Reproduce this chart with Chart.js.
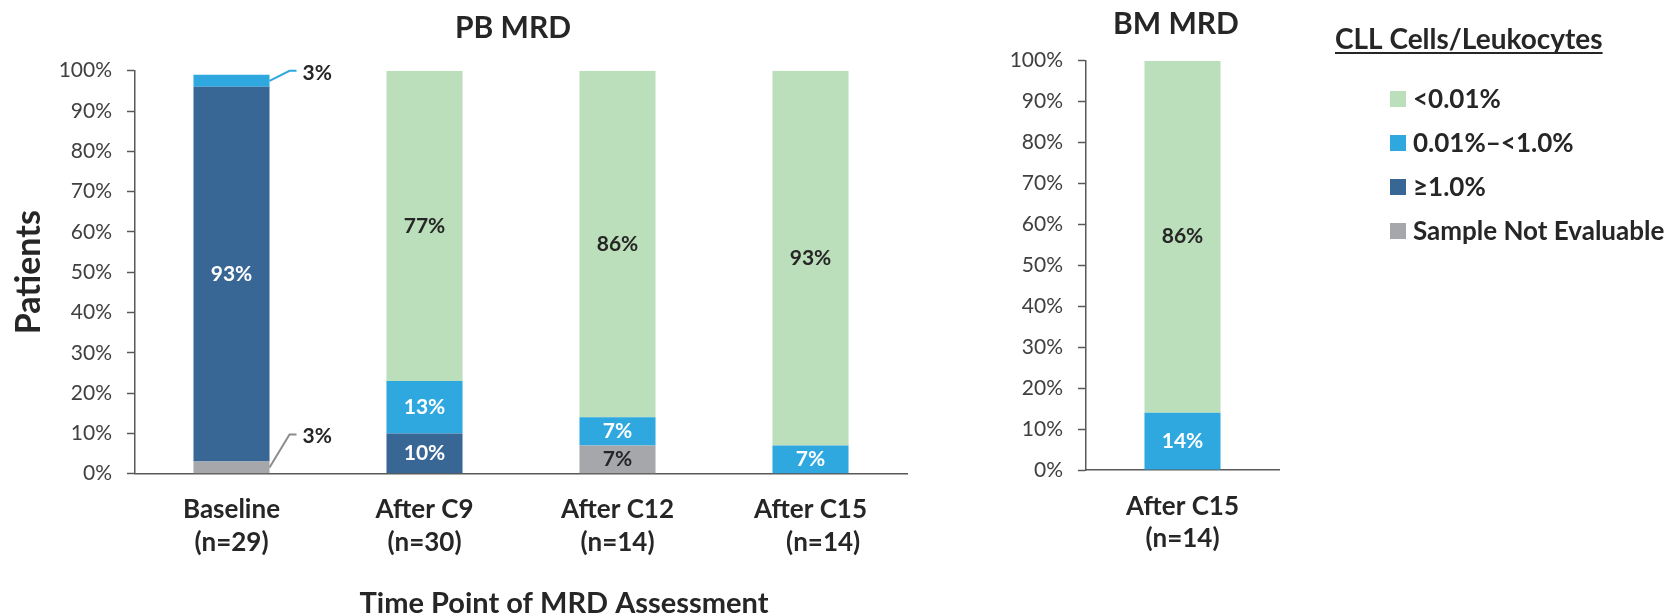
<!DOCTYPE html>
<html>
<head>
<meta charset="utf-8">
<title>MRD by time point</title>
<script src="https://cdn.jsdelivr.net/npm/chart.js@4.4.1/dist/chart.umd.min.js"></script>
<style>
  html, body { margin: 0; padding: 0; background: #ffffff; }
  body { width: 1677px; height: 616px; position: relative; overflow: hidden; }
  #pb { position: absolute; left: 0; top: 0; }
  #bm { position: absolute; left: 1000px; top: 0; }
</style>
</head>
<body>
<canvas id="pb" width="930" height="616"></canvas>
<canvas id="bm" width="677" height="616"></canvas>
<script>
// ---- data -------------------------------------------------------------
const pbCategories = [['Baseline', '(n=29)'], ['After C9', '(n=30)'], ['After C12', '(n=14)'], ['After C15', '    (n=14)']];
const bmCategories = [['After C15', '(n=14)']];

// series, listed top of the stack first (legend order)
const seriesNames = ['<0.01%', '0.01%\u2013<1.0%', '\u22651.0%', 'Sample Not Evaluable'];
const seriesColors = ['#BBDFBA', '#2EA8DF', '#386695', '#A6A7AB'];

// peripheral blood, % of patients per time point
const pbBelow001 = [0, 77, 86, 93];
const pb001to1 = [3, 13, 7, 7];
const pbAtLeast1 = [93, 10, 0, 0];
const pbNotEvaluable = [3, 0, 7, 0];

// bone marrow, % of patients
const bmBelow001 = [86];
const bm001to1 = [14];
const bmAtLeast1 = [0];
const bmNotEvaluable = [0];

const yTickLabels = ['0%', '10%', '20%', '30%', '40%', '50%', '60%', '70%', '80%', '90%', '100%'];

// ---- styling ----------------------------------------------------------
const FONT = 'Lato';
const INK = '#262626';
const AXIS = '#595959';

function buildDatasets(notEval, atLeast1, mid, below) {
  // stacked bottom to top: not evaluable, >=1.0%, 0.01-<1.0%, <0.01%
  return [
    { label: seriesNames[3], data: notEval, backgroundColor: seriesColors[3], labelColor: INK,
      callout: { color: '#8C8C8C', rise: 33 } },
    { label: seriesNames[2], data: atLeast1, backgroundColor: seriesColors[2], labelColor: '#FFFFFF' },
    { label: seriesNames[1], data: mid, backgroundColor: seriesColors[1], labelColor: '#FFFFFF',
      callout: { color: '#2EA8DF', rise: 10 } },
    { label: seriesNames[0], data: below, backgroundColor: seriesColors[0], labelColor: INK }
  ];
}

// value labels centred in each segment; thin segments get a leader line
const segmentLabels = {
  id: 'segmentLabels',
  afterDatasetsDraw(chart) {
    const ctx = chart.ctx;
    ctx.save();
    ctx.font = '700 21px ' + FONT;
    chart.data.datasets.forEach((ds, di) => {
      const meta = chart.getDatasetMeta(di);
      meta.data.forEach((bar, i) => {
        const v = ds.data[i];
        if (!v) return;
        const txt = v + '%';
        const cy = (bar.y + bar.base) / 2;
        if (v < 5 && ds.callout) {
          const x0 = bar.x + bar.width / 2;
          const x1 = x0 + 20;
          const y1 = cy - ds.callout.rise;
          ctx.strokeStyle = ds.callout.color;
          ctx.lineWidth = 2;
          ctx.beginPath();
          ctx.moveTo(x0, cy);
          ctx.lineTo(x1, y1);
          ctx.lineTo(x1 + 7, y1);
          ctx.stroke();
          ctx.fillStyle = INK;
          ctx.textAlign = 'left';
          ctx.textBaseline = 'middle';
          ctx.fillText(txt, x1 + 13, y1 + 2);
        } else {
          ctx.fillStyle = ds.labelColor;
          ctx.textAlign = 'center';
          ctx.textBaseline = 'middle';
          ctx.fillText(txt, bar.x, cy);
        }
      });
    });
    ctx.restore();
  }
};

// free-standing headings (panel titles, shared axis title)
const headings = {
  id: 'headings',
  afterDraw(chart, args, opts) {
    const ctx = chart.ctx;
    ctx.save();
    (opts.items || []).forEach(t => {
      ctx.font = t.font;
      ctx.fillStyle = INK;
      ctx.textAlign = 'center';
      ctx.textBaseline = 'alphabetic';
      ctx.fillText(t.text, t.x, t.y);
    });
    ctx.restore();
  }
};

// series key with underlined heading
const seriesKey = {
  id: 'seriesKey',
  afterDraw(chart, args, opts) {
    if (!opts.display) return;
    const ctx = chart.ctx;
    ctx.save();
    ctx.fillStyle = INK;
    ctx.font = '700 28px ' + FONT;
    ctx.textAlign = 'left';
    ctx.textBaseline = 'alphabetic';
    ctx.fillText(opts.title, opts.x, opts.titleY);
    const w = ctx.measureText(opts.title).width;
    ctx.fillRect(opts.x, opts.titleY + 3, w, 2);
    ctx.font = '700 26px ' + FONT;
    ctx.textBaseline = 'middle';
    seriesNames.forEach((name, i) => {
      const cy = opts.firstRowY + i * opts.rowGap;
      ctx.fillStyle = seriesColors[i];
      ctx.fillRect(opts.x + 55, cy - 8, 16, 16);
      ctx.fillStyle = INK;
      ctx.fillText(name, opts.x + 78, cy + 1);
    });
    ctx.restore();
  }
};

function yAxis(width, withTitle) {
  return {
    stacked: true,
    min: 0,
    max: 100,
    ticks: {
      stepSize: 10,
      autoSkip: false,
      padding: 15,
      color: '#404040',
      font: { family: FONT, size: 21 },
      callback: (value, index) => yTickLabels[index]
    },
    grid: { display: true, drawOnChartArea: false, drawTicks: true, tickLength: 8, tickColor: AXIS, tickWidth: 1.5 },
    border: { display: true, color: AXIS, width: 1.5 },
    title: {
      display: withTitle,
      text: 'Patients',
      color: INK,
      font: { family: FONT, size: 34, weight: '700' },
      padding: { top: 9, bottom: 0 }
    },
    afterFit(scale) { scale.width = width; }
  };
}

function xAxis(height, pad) {
  return {
    stacked: true,
    ticks: {
      autoSkip: false,
      maxRotation: 0,
      padding: pad,
      color: INK,
      font: { family: FONT, size: 26, weight: '700', lineHeight: 1.25 }
    },
    grid: { display: false, drawTicks: false },
    border: { display: true, color: AXIS, width: 1.5 },
    afterFit(scale) { scale.height = height; }
  };
}

function build() {
  new Chart(document.getElementById('pb'), {
    type: 'bar',
    data: { labels: pbCategories, datasets: buildDatasets(pbNotEvaluable, pbAtLeast1, pb001to1, pbBelow001) },
    options: {
      responsive: false,
      animation: false,
      devicePixelRatio: 1,
      layout: { padding: { top: 70.7, right: 23, bottom: 0, left: 0 } },
      datasets: { bar: { categoryPercentage: 1, barPercentage: 0.394, borderWidth: 0 } },
      scales: { x: xAxis(142.3, 20), y: yAxis(135, true) },
      plugins: {
        legend: { display: false },
        tooltip: { enabled: false },
        headings: {
          items: [
            { text: 'PB MRD', x: 513, y: 38, font: '700 30px ' + FONT },
            { text: 'Time Point of MRD Assessment', x: 564, y: 613, font: '700 29px ' + FONT }
          ]
        }
      }
    },
    plugins: [segmentLabels, headings]
  });

  new Chart(document.getElementById('bm'), {
    type: 'bar',
    data: { labels: bmCategories, datasets: buildDatasets(bmNotEvaluable, bmAtLeast1, bm001to1, bmBelow001) },
    options: {
      responsive: false,
      animation: false,
      devicePixelRatio: 1,
      layout: { padding: { top: 60.7, right: 398, bottom: 0, left: 0 } },
      datasets: { bar: { categoryPercentage: 1, barPercentage: 0.394, borderWidth: 0 } },
      scales: { x: xAxis(146, 20), y: yAxis(86, false) },
      plugins: {
        legend: { display: false },
        tooltip: { enabled: false },
        headings: { items: [{ text: 'BM MRD', x: 176, y: 34, font: '700 30px ' + FONT }] },
        seriesKey: { display: true, title: 'CLL Cells/Leukocytes', x: 335, titleY: 49, firstRowY: 99, rowGap: 44 }
      }
    },
    plugins: [segmentLabels, headings, seriesKey]
  });
}

if (document.fonts && document.fonts.load) {
  Promise.all([
    document.fonts.load('400 20px ' + FONT),
    document.fonts.load('700 20px ' + FONT)
  ]).then(build, build);
} else {
  build();
}
</script>
</body>
</html>
